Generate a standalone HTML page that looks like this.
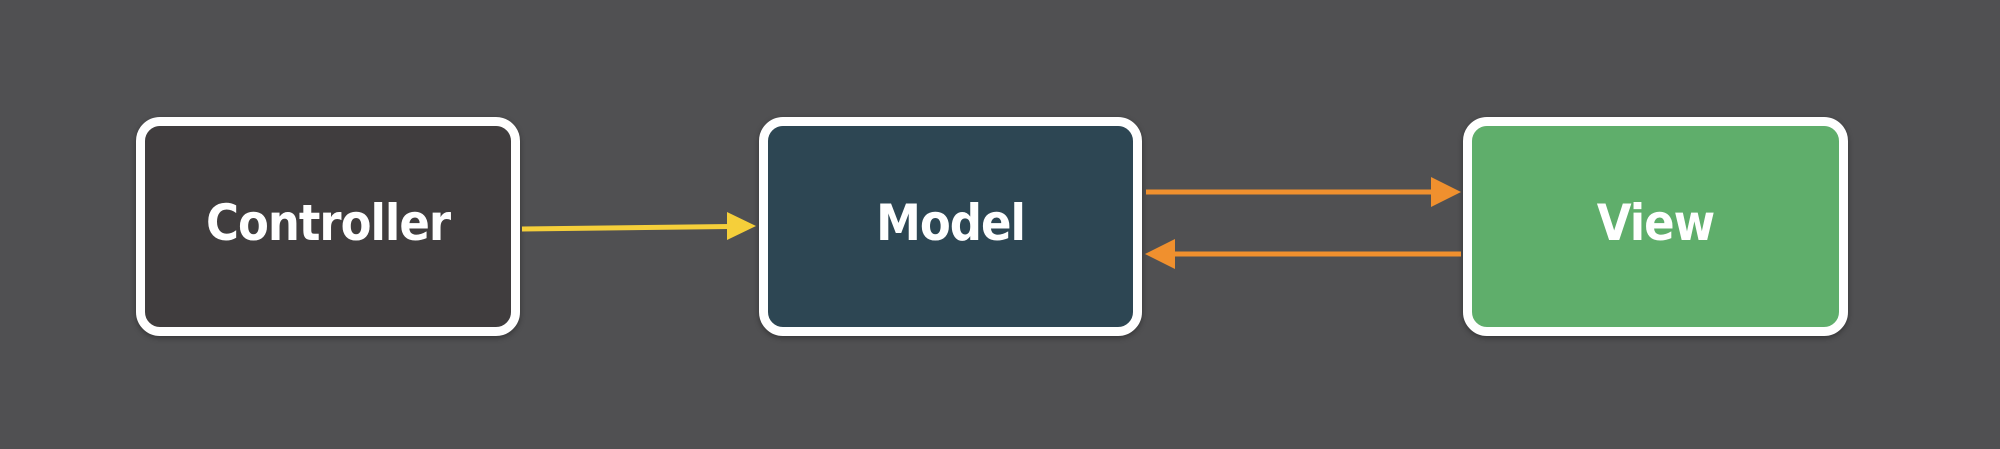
<!DOCTYPE html>
<html><head><style>
html,body{margin:0;padding:0;}
body{width:2000px;height:449px;background:#505052;position:relative;overflow:hidden;font-family:"DejaVu Sans Condensed","DejaVu Sans","Liberation Sans",sans-serif;}
.b{position:absolute;top:117px;height:193px;padding-bottom:8px;border:9px solid #fff;border-radius:24px;box-shadow:0 2px 6px rgba(0,0,0,0.35);color:#fff;font-size:50px;font-weight:600;display:flex;align-items:center;justify-content:center;box-sizing:content-box;letter-spacing:-1px;}
</style></head><body>
<div class="b" style="left:136px;width:366px;background:#403d3e;">Controller</div>
<div class="b" style="left:759px;width:365px;background:#2d4653;">Model</div>
<div class="b" style="left:1463px;width:367px;background:#5fae6b;">View</div>
<svg width="2000" height="449" style="position:absolute;left:0;top:0">
<line x1="522" y1="229" x2="730" y2="226.5" stroke="#f5cf3a" stroke-width="5"/>
<polygon points="727,212 756,226 727,240" fill="#f5cf3a"/>
<line x1="1146" y1="192" x2="1434" y2="192" stroke="#f0902e" stroke-width="5"/>
<polygon points="1431,177 1461,192 1431,207" fill="#f0902e"/>
<line x1="1461" y1="254" x2="1172" y2="254" stroke="#f0902e" stroke-width="5"/>
<polygon points="1175,239 1145,254 1175,269" fill="#f0902e"/>
</svg>
</body></html>
